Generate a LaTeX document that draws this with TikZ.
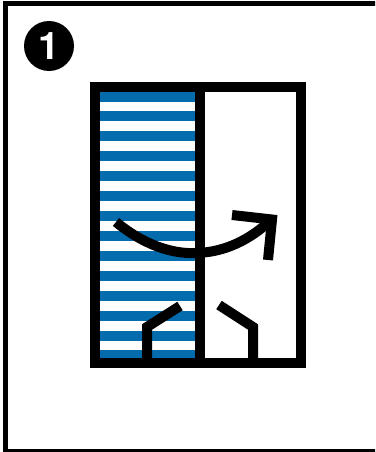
\documentclass[tikz,border=0pt]{standalone}
\usepackage{fontspec}
\setmainfont{TeX Gyre Heros}
\definecolor{stripeblue}{HTML}{046BAD}
\tikzset{
  thickline/.style={draw=black,line width=10pt,miter limit=10},
  frameline/.style={draw=black,line width=5pt},
  stripe/.style={fill=stripeblue,draw=none}
}
\begin{document}
\begin{tikzpicture}[x=1pt,y=-1pt]
\useasboundingbox (0,0) rectangle (375,452);
\fill[white] (0,0) rectangle (375,452);
% outer frame (open at the right)
\begin{scope}
\clip (0,0) rectangle (375,452);
\draw[frameline] (380,3.5) -- (5.5,3.5) -- (5.5,451.5) -- (380,451.5);
\end{scope}
% stripes
\foreach \y in {92,111,131,151,171,191,211,231,251,271,291,311,331}
  \fill[stripe] (100,\y) rectangle (195,\y+9.7);
\fill[stripe] (100,350) rectangle (195,358);
% door frame
\draw[thickline] (95,87) rectangle (301,363);
\draw[thickline] (200,87) -- (200,368);
% curved arrow
\draw[thickline] (116,222) .. controls (150,250) and (180,254) .. (197,253)
   .. controls (225,252) and (250,240) .. (272,219);
\draw[thickline,line join=miter] (232,215) -- (272,219.5) -- (268,260);
% legs
\draw[thickline,line join=miter] (180,306) -- (147,327) -- (147,358);
\draw[thickline,line join=miter] (219,305) -- (253,327) -- (253,358);
% badge
\node[circle,fill=black,minimum size=50pt,inner sep=0pt,text=white,font=\bfseries\fontsize{38}{38}\selectfont] (badge) at (49,46) {1};
\end{tikzpicture}
\end{document}
